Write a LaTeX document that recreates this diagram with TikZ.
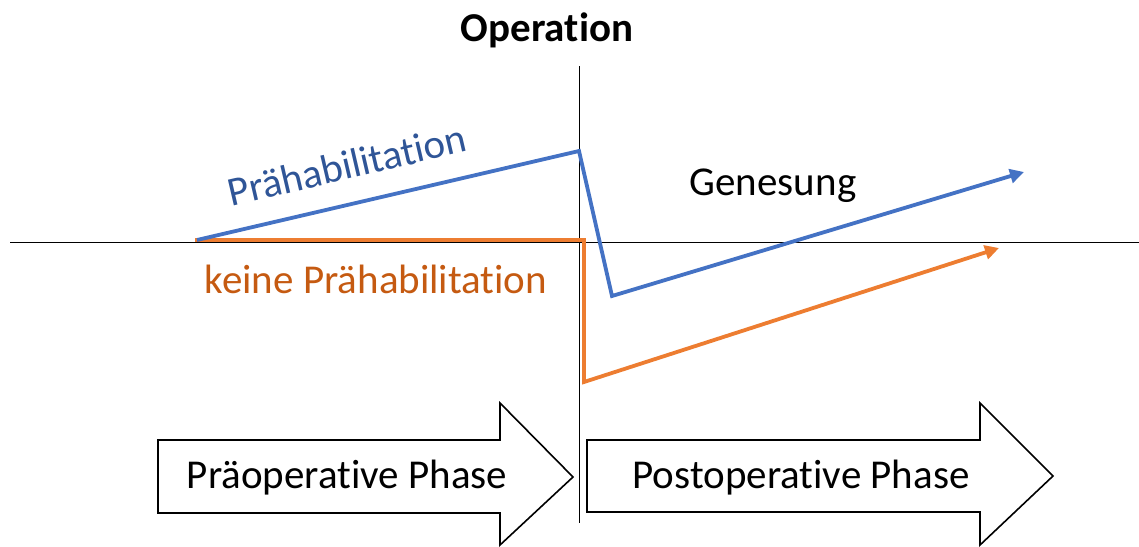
\documentclass[tikz,border=0pt]{standalone}
\usepackage{fontspec}
\setmainfont{Carlito}[Ligatures=NoCommon]
\usetikzlibrary{arrows.meta}
\definecolor{lblue}{HTML}{4472C4}
\definecolor{lorange}{HTML}{ED7D31}
\definecolor{tblue}{HTML}{2F5597}
\definecolor{torange}{HTML}{C55A11}
\tikzset{
  axis/.style={draw=black, line width=0.8pt},
  curveline/.style={line width=3.8pt, line join=miter},
  tip/.style={-{Triangle[length=14pt,width=14pt]}},
  phase/.style={draw=black, line width=1.6pt, fill=white, line join=miter},
  lbl/.style={inner sep=0pt, font=\fontsize{41}{45}\selectfont}
}
\begin{document}
\begin{tikzpicture}[x=1pt,y=-1pt]
\useasboundingbox (0,0) rectangle (1139,546);
% axes
\coordinate (hL) at (10,242);
\coordinate (hR) at (1139,242);
\coordinate (vT) at (579,66);
\coordinate (vB) at (579,523);
\draw[axis] (hL) -- (hR);
% phase arrows
\draw[phase] (158,440) -- (500,440) -- (500,403) -- (573,477) -- (500,545) -- (500,513) -- (158,513) -- cycle;
\draw[phase] (587,440) -- (980,440) -- (980,403) -- (1053,476) -- (980,545) -- (980,512) -- (587,512) -- cycle;
\draw[axis] (vT) -- (vB);
% curves
\coordinate (b0) at (197,240);
\coordinate (b1) at (579,151);
\coordinate (b2) at (612,296);
\coordinate (b3) at (1024,172);
\coordinate (o0) at (195,240);
\coordinate (o1) at (584,240);
\coordinate (o2) at (584,382);
\coordinate (o3) at (999,248);
\draw[curveline, lorange, tip] (o0) -- (o1) -- (o2) -- (o3);
\draw[curveline, lblue, tip] (b0) -- (b1) -- (b2) -- (b3);
% labels
\node[lbl, font=\fontsize{41}{45}\selectfont\bfseries] (op) at (547,30) {Operation};
\node[lbl, text=tblue, rotate=13.1] (pre) at (347,165) {Prähabilitation};
\node[lbl, text=torange] (keine) at (376,279) {keine Prähabilitation};
\node[lbl] (gen) at (773,186) {Genesung};
\node[lbl] (praeop) at (347,478) {Präoperative Phase};
\node[lbl] (postop) at (801,478) {Postoperative Phase};
\end{tikzpicture}
\end{document}
